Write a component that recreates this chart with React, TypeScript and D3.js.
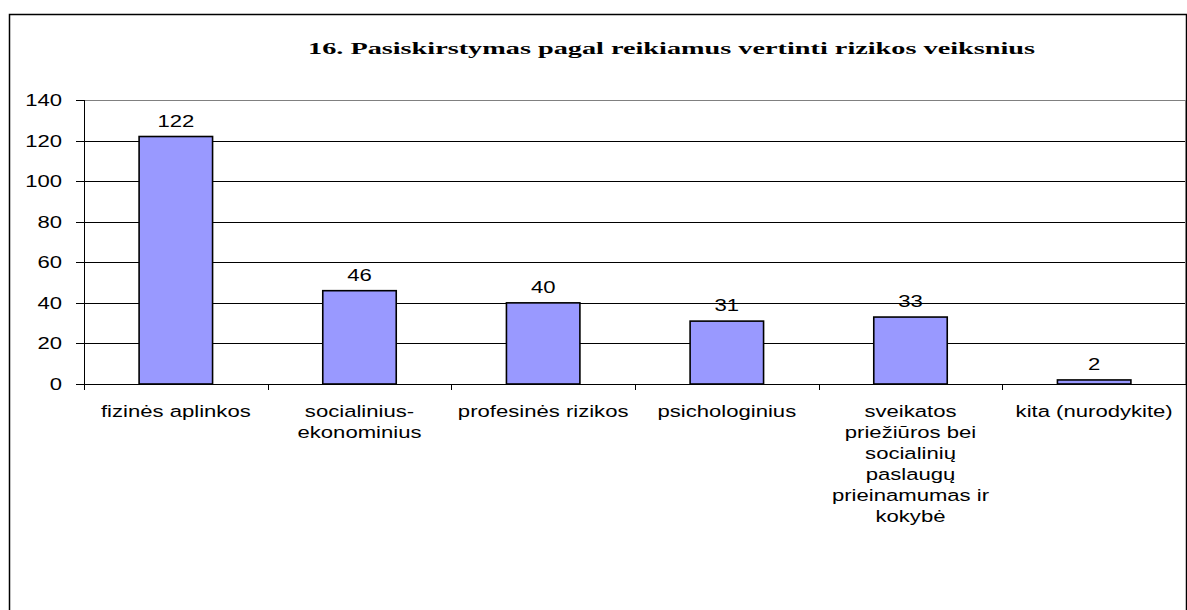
import React from "react";
import * as d3 from "d3";

const categories = [
  "fizinės aplinkos",
  "socialinius-\nekonominius",
  "profesinės rizikos",
  "psichologinius",
  "sveikatos\npriežiūros bei\nsocialinių\npaslaugų\nprieinamumas ir\nkokybė",
  "kita (nurodykite)",
];
const values = [122, 46, 40, 31, 33, 2];
const yTicks = [0, 20, 40, 60, 80, 100, 120, 140];
const title = "16. Pasiskirstymas pagal reikiamus vertinti rizikos veiksnius";

const W = 1187;
const H = 610;
const plot = { left: 84, right: 1186, top: 100, bottom: 384 };
const SX = 1.3;
const sans = "'Liberation Sans', Arial, sans-serif";

export default function App() {
  const x = d3
    .scaleBand<string>()
    .domain(categories)
    .range([plot.left, plot.right])
    .paddingInner(0.6)
    .paddingOuter(0.3);
  const y = d3.scaleLinear().domain([0, 140]).range([plot.bottom, plot.top]);
  const step = x.step();
  const boundaries = d3.range(categories.length + 1).map((i) => plot.left + i * step);

  return (
    <svg
      width={W}
      height={H}
      style={{ position: "absolute", left: 0, top: 0, background: "#fff" }}
    >
      <rect x={0} y={0} width={W} height={H} fill="#fff" />
      {/* outer frame */}
      <rect x={9.5} y={14.5} width={1177} height={H + 20} fill="none" stroke="#000" strokeWidth={1.5} />
      {/* title */}
      <text
        x={308}
        y={54}
        fontFamily="'Liberation Serif', 'Times New Roman', serif"
        fontWeight="bold"
        fontSize={17}
        textLength={727}
        lengthAdjust="spacingAndGlyphs"
        fill="#000"
      >
        {title}
      </text>
      {/* gridlines */}
      {yTicks.map((t) => (
        <line
          key={"g" + t}
          x1={plot.left}
          x2={plot.right}
          y1={Math.round(y(t)) + 0.5}
          y2={Math.round(y(t)) + 0.5}
          stroke={t === 140 ? "#808080" : "#000"}
          strokeWidth={1}
        />
      ))}
      {/* plot right border */}
      <line x1={plot.right - 0.5} x2={plot.right - 0.5} y1={plot.top} y2={plot.bottom} stroke="#808080" strokeWidth={1} />
      {/* y axis */}
      <line x1={plot.left + 0.5} x2={plot.left + 0.5} y1={plot.top} y2={plot.bottom + 1} stroke="#000" strokeWidth={1} />
      {yTicks.map((t) => (
        <g key={"yt" + t}>
          <line x1={76} x2={plot.left} y1={Math.round(y(t)) + 0.5} y2={Math.round(y(t)) + 0.5} stroke="#000" />
          <text
            transform={`translate(62,${y(t) + 6}) scale(${SX},1)`}
            textAnchor="end"
            fontFamily={sans}
            fontSize={17}
            fill="#000"
          >
            {t}
          </text>
        </g>
      ))}
      {/* x axis */}
      <line x1={plot.left} x2={plot.right} y1={plot.bottom + 0.5} y2={plot.bottom + 0.5} stroke="#000" strokeWidth={1} />
      {boundaries.slice(0, -1).map((bx, i) => (
        <line key={"xt" + i} x1={Math.round(bx) + 0.5} x2={Math.round(bx) + 0.5} y1={plot.bottom} y2={plot.bottom + 6} stroke="#000" />
      ))}
      {/* bars */}
      {categories.map((c, i) => (
        <rect
          key={"b" + i}
          x={x(c)!}
          y={y(values[i])}
          width={x.bandwidth()}
          height={plot.bottom - y(values[i])}
          fill="#9999FF"
          stroke="#000"
          strokeWidth={1.6}
        />
      ))}
      {/* value labels */}
      {categories.map((c, i) => (
        <text
          key={"v" + i}
          transform={`translate(${x(c)! + x.bandwidth() / 2},${y(values[i]) - 10}) scale(${SX},1)`}
          textAnchor="middle"
          fontFamily={sans}
          fontSize={17}
          fill="#000"
        >
          {values[i]}
        </text>
      ))}
      {/* category labels */}
      {categories.map((c, i) => (
        <g key={"c" + i}>
          {c.split("\n").map((line, j) => (
            <text
              key={j}
              transform={`translate(${x(c)! + x.bandwidth() / 2},${417 + j * 21}) scale(${SX},1)`}
              textAnchor="middle"
              fontFamily={sans}
              fontSize={17}
              fill="#000"
            >
              {line}
            </text>
          ))}
        </g>
      ))}
    </svg>
  );
}
